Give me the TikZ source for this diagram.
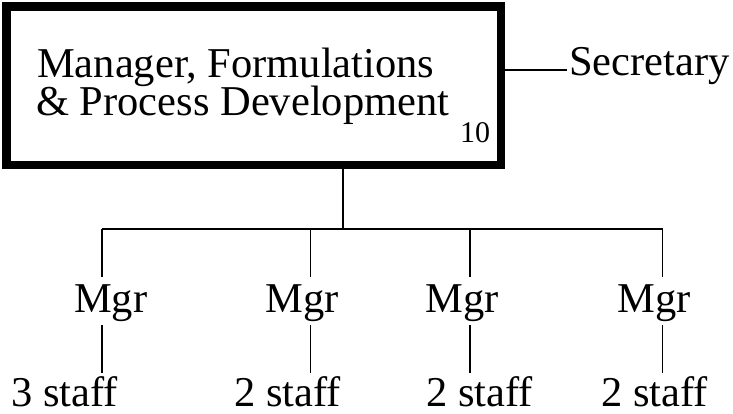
\documentclass[tikz,border=0pt]{standalone}
\usepackage{fontspec}
\setmainfont{Liberation Serif}
\usetikzlibrary{calc}
\begin{document}
\begin{tikzpicture}[x=1pt,y=-1pt,
  txt/.style={inner sep=0pt,anchor=base west,font=\fontsize{42.5}{38}\selectfont},
  small/.style={inner sep=0pt,anchor=base west,font=\fontsize{30}{30}\selectfont},
  thin/.style={line width=1.1pt},
  bigbox/.style={draw,line width=8.5pt,rectangle,minimum width=494.5pt,minimum height=158.5pt,inner sep=0pt}]
\useasboundingbox (0,0) rectangle (733,413);
% main box
\node[bigbox] (box) at (253.5,85.5) {};
\node[txt] (l1) at (37,77) {Manager, Formulations};
\node[txt] (l2) at (36,115) {\& Process Development};
\node[small] (ten) at (460,142) {10};
% secretary
\node[txt] (sec) at (569,75) {Secretary};
\coordinate (secend) at (567,70);
\draw[thin] (box.east |- secend) -- (secend);
% trunk and bus
\coordinate (bus) at (343,229);
\draw[thin] (box.south -| bus) -- (bus);
\coordinate (b1) at (102,229);
\coordinate (b2) at (310.5,229);
\coordinate (b3) at (470,229);
\coordinate (b4) at (662.5,229);
\draw[thin] (b1) -- (b4);
% managers
\node[txt] (m1) at (74,312) {Mgr};
\node[txt] (m2) at (265.5,312) {Mgr};
\node[txt] (m3) at (425.5,312) {Mgr};
\node[txt] (m4) at (617.5,312) {Mgr};
% staff
\node[txt] (s1) at (11,406) {3 staff};
\node[txt] (s2) at (234,406) {2 staff};
\node[txt] (s3) at (426,406) {2 staff};
\node[txt] (s4) at (601,406) {2 staff};
\foreach \i in {1,...,4}{
  \coordinate (t\i) at ($(b\i)+(0,48)$);
  \coordinate (u\i) at ($(b\i)+(0,96)$);
  \coordinate (v\i) at ($(b\i)+(0,144)$);
  \draw[thin] (b\i) -- (t\i);
  \draw[thin] (u\i) -- (v\i);
}
\end{tikzpicture}
\end{document}
